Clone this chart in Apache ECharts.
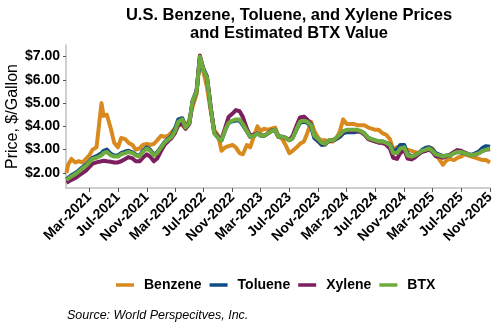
<!DOCTYPE html>
<html>
<head>
<meta charset="utf-8">
<script src="https://cdn.jsdelivr.net/npm/echarts@6/dist/echarts.min.js"></script>
<style>
html,body{margin:0;padding:0;background:#fff;}
#c{width:500px;height:330px;}
</style>
</head>
<body>
<div id="c"></div>
<script>
const dates = ["2020-11-24","2020-12-01","2020-12-15","2021-01-01","2021-01-15","2021-02-01","2021-02-15","2021-03-01","2021-03-15","2021-04-01","2021-04-22","2021-05-01","2021-05-15","2021-06-01","2021-06-15","2021-07-01","2021-07-15","2021-08-01","2021-08-15","2021-09-01","2021-09-15","2021-10-01","2021-10-15","2021-11-01","2021-11-15","2021-12-01","2021-12-15","2022-01-01","2022-01-15","2022-02-01","2022-02-15","2022-03-01","2022-03-15","2022-04-01","2022-04-15","2022-05-01","2022-05-15","2022-06-01","2022-06-15","2022-07-01","2022-07-15","2022-08-01","2022-08-15","2022-09-01","2022-09-15","2022-10-01","2022-10-15","2022-11-01","2022-11-15","2022-12-01","2022-12-15","2023-01-01","2023-01-15","2023-02-01","2023-02-15","2023-03-01","2023-03-15","2023-04-01","2023-04-15","2023-05-01","2023-05-15","2023-06-01","2023-06-15","2023-07-01","2023-07-15","2023-08-01","2023-08-15","2023-09-01","2023-09-15","2023-10-01","2023-10-15","2023-11-01","2023-11-15","2023-12-01","2023-12-15","2024-01-01","2024-01-15","2024-02-01","2024-02-15","2024-03-01","2024-03-15","2024-04-01","2024-04-15","2024-05-01","2024-05-15","2024-06-01","2024-06-15","2024-07-01","2024-07-15","2024-08-01","2024-08-15","2024-09-01","2024-09-15","2024-10-01","2024-10-15","2024-11-01","2024-11-15","2024-12-01","2024-12-15","2025-01-01","2025-01-15","2025-02-01","2025-02-15","2025-03-01","2025-03-15","2025-04-01","2025-04-15","2025-05-01","2025-05-15","2025-06-01","2025-06-15","2025-07-01","2025-07-15","2025-08-01","2025-08-15","2025-09-01","2025-09-15","2025-10-01","2025-10-15","2025-11-01"];

const benzene = [2.00,2.35,2.60,2.45,2.50,2.45,2.60,2.75,3.00,3.10,5.00,4.45,4.50,3.90,3.30,3.10,3.50,3.45,3.30,3.20,3.00,3.05,3.20,3.25,3.20,3.25,3.40,3.60,3.55,3.60,3.75,3.90,4.10,4.05,3.90,4.30,4.85,5.40,6.95,6.30,5.70,4.60,3.85,3.60,2.95,3.10,3.15,3.20,3.10,2.85,2.80,3.20,3.10,3.60,4.00,3.80,3.90,3.85,3.90,3.95,3.60,3.45,3.20,2.85,2.95,3.10,3.25,3.35,3.70,4.20,3.80,3.50,3.40,3.40,3.35,3.35,3.45,3.80,4.30,4.10,4.10,4.10,4.05,4.05,4.05,3.95,3.90,3.85,3.85,3.70,3.65,3.45,3.00,3.10,3.10,3.05,3.00,2.95,2.90,2.85,2.95,3.05,3.10,3.05,2.80,2.55,2.35,2.55,2.60,2.55,2.65,2.70,2.80,2.75,2.70,2.65,2.60,2.55,2.55,2.45];

const toluene = [1.72,1.78,1.90,2.00,2.10,2.25,2.35,2.50,2.65,2.72,2.85,2.95,3.00,2.82,2.75,2.75,2.85,2.92,2.95,2.88,2.78,2.72,2.95,3.10,3.00,2.78,2.88,3.12,3.32,3.48,3.60,3.90,4.30,4.35,4.00,4.15,5.10,5.55,6.95,6.45,6.15,4.75,3.75,3.50,3.40,3.85,4.15,4.22,4.25,4.25,4.05,3.78,3.55,3.60,3.70,3.60,3.60,3.70,3.80,3.85,3.55,3.55,3.50,3.40,3.50,3.88,4.15,4.20,4.15,4.00,3.50,3.35,3.20,3.22,3.38,3.40,3.45,3.55,3.70,3.75,3.75,3.75,3.78,3.78,3.70,3.50,3.45,3.40,3.35,3.35,3.30,3.22,2.95,3.00,3.20,3.20,2.80,2.72,2.75,2.85,2.98,3.08,3.10,3.00,2.85,2.78,2.72,2.75,2.75,2.85,2.90,2.88,2.85,2.80,2.78,2.85,2.92,3.08,3.15,3.12];

const xylene = [1.58,1.62,1.70,1.78,1.88,2.00,2.10,2.25,2.40,2.45,2.50,2.52,2.50,2.48,2.45,2.45,2.50,2.60,2.68,2.62,2.50,2.50,2.65,2.80,2.70,2.50,2.62,2.95,3.20,3.38,3.50,3.72,4.05,4.15,3.90,4.10,5.05,5.50,7.05,6.40,6.10,4.75,3.75,3.55,3.45,3.95,4.40,4.55,4.70,4.65,4.40,3.90,3.60,3.65,3.70,3.62,3.60,3.70,3.82,3.85,3.55,3.55,3.50,3.42,3.60,4.05,4.38,4.42,4.30,4.10,3.60,3.42,3.28,3.25,3.38,3.40,3.48,3.62,3.78,3.82,3.82,3.82,3.80,3.75,3.65,3.45,3.40,3.35,3.30,3.28,3.22,3.05,2.65,2.60,2.85,3.00,2.62,2.58,2.65,2.80,2.90,2.95,3.00,2.90,2.72,2.70,2.65,2.72,2.78,2.90,2.98,2.95,2.88,2.80,2.75,2.80,2.85,2.95,3.00,3.02];

const btx = [1.70,1.75,1.85,1.95,2.05,2.20,2.30,2.45,2.60,2.65,2.75,2.85,2.90,2.75,2.70,2.70,2.80,2.85,2.90,2.85,2.75,2.70,2.90,3.05,2.95,2.75,2.85,3.10,3.30,3.45,3.55,3.80,4.20,4.30,3.95,4.15,5.10,5.50,7.00,6.40,6.10,4.70,3.70,3.50,3.40,3.85,4.15,4.25,4.30,4.30,4.10,3.80,3.55,3.60,3.70,3.60,3.60,3.70,3.80,3.85,3.55,3.55,3.50,3.40,3.50,3.90,4.20,4.25,4.20,4.05,3.60,3.45,3.30,3.25,3.40,3.40,3.50,3.65,3.80,3.85,3.85,3.85,3.85,3.80,3.70,3.50,3.45,3.40,3.35,3.35,3.30,3.20,2.85,2.85,3.05,3.10,2.75,2.70,2.75,2.85,2.95,3.00,3.05,2.95,2.80,2.75,2.70,2.75,2.75,2.85,2.90,2.90,2.85,2.80,2.75,2.80,2.85,2.95,3.00,3.05];

const xTickDates = ["2021-03-01","2021-07-01","2021-11-01","2022-03-01","2022-07-01","2022-11-01","2023-03-01","2023-07-01","2023-11-01","2024-03-01","2024-07-01","2024-11-01","2025-03-01","2025-07-01","2025-11-01"];
const yTicks = [2,3,4,5,6,7];
const seriesNames = ["Benzene","Toluene","Xylene","BTX"];
const seriesColors = ["#D98A1E","#0F4C87","#7B1F5E","#6EAB3D"];

const ts = d => Date.parse(d + "T00:00:00Z");
const MONTHS = ["Jan","Feb","Mar","Apr","May","Jun","Jul","Aug","Sep","Oct","Nov","Dec"];
const pair = arr => dates.map((d, i) => [ts(d), arr[i]]);
const values = [benzene, toluene, xylene, btx];
const FONT = 'Liberation Sans, Arial, sans-serif';

const chart = echarts.init(document.getElementById('c'), null, {renderer: 'canvas'});
chart.setOption({
  animation: false,
  backgroundColor: '#ffffff',
  title: {
    text: 'U.S. Benzene, Toluene, and Xylene Prices\nand Estimated BTX Value',
    left: 284, top: 1, textAlign: 'center',
    textStyle: {fontFamily: FONT, fontWeight: 'bold', fontSize: 16.5, color: '#000', lineHeight: 18}
  },
  legend: {
    data: seriesNames,
    top: 273, left: 111,
    icon: 'rect', itemWidth: 18, itemHeight: 3.5, itemGap: 8,
    textStyle: {fontFamily: FONT, fontWeight: 'bold', fontSize: 14, color: '#000', padding: [0, 0, 0, 5]}
  },
  graphic: [{
    type: 'text', left: 67, top: 309,
    style: {text: 'Source: World Perspecitves, Inc.', fontFamily: FONT, fontStyle: 'italic', fontSize: 12.5, fill: '#000'}
  }],
  grid: {left: 66, right: 10, top: 45, bottom: 142, containLabel: false, outerBoundsMode: 'none'},
  xAxis: {
    type: 'value',
    min: ts('2020-11-22'), max: ts('2025-11-01'),
    axisLine: {show: true, lineStyle: {color: '#BFBFBF', width: 1.5}},
    axisTick: {show: true, customValues: xTickDates.map(ts), length: 4, lineStyle: {color: '#555'}},
    axisLabel: {
      customValues: xTickDates.map(ts), rotate: 45, margin: 7,
      fontFamily: FONT, fontWeight: 'bold', fontSize: 14, color: '#000',
      formatter: v => { const d = new Date(v); return MONTHS[d.getUTCMonth()] + '-' + d.getUTCFullYear(); }
    },
    splitLine: {show: false}
  },
  yAxis: {
    type: 'value', min: 1.35, max: 7.5,
    name: 'Price, $/Gallon', nameLocation: 'middle', nameGap: 45, nameRotate: 90,
    nameMoveOverlap: false,
    nameTextStyle: {fontFamily: FONT, fontSize: 16, color: '#000'},
    axisLine: {show: true, lineStyle: {color: '#BFBFBF', width: 1.5}},
    axisTick: {show: true, customValues: yTicks, length: 3, lineStyle: {color: '#555'}},
    axisLabel: {
      customValues: yTicks, margin: 6,
      fontFamily: FONT, fontWeight: 'bold', fontSize: 14, color: '#000',
      formatter: v => '$' + v.toFixed(2)
    },
    splitLine: {show: false}
  },
  series: seriesNames.map((n, k) => ({
    name: n, type: 'line', data: pair(values[k]),
    showSymbol: false, symbol: 'none', smooth: false,
    lineStyle: {width: 4, color: seriesColors[k], join: 'round'},
    itemStyle: {color: seriesColors[k]},
    z: 2 + k
  }))
});
</script>
</body>
</html>
